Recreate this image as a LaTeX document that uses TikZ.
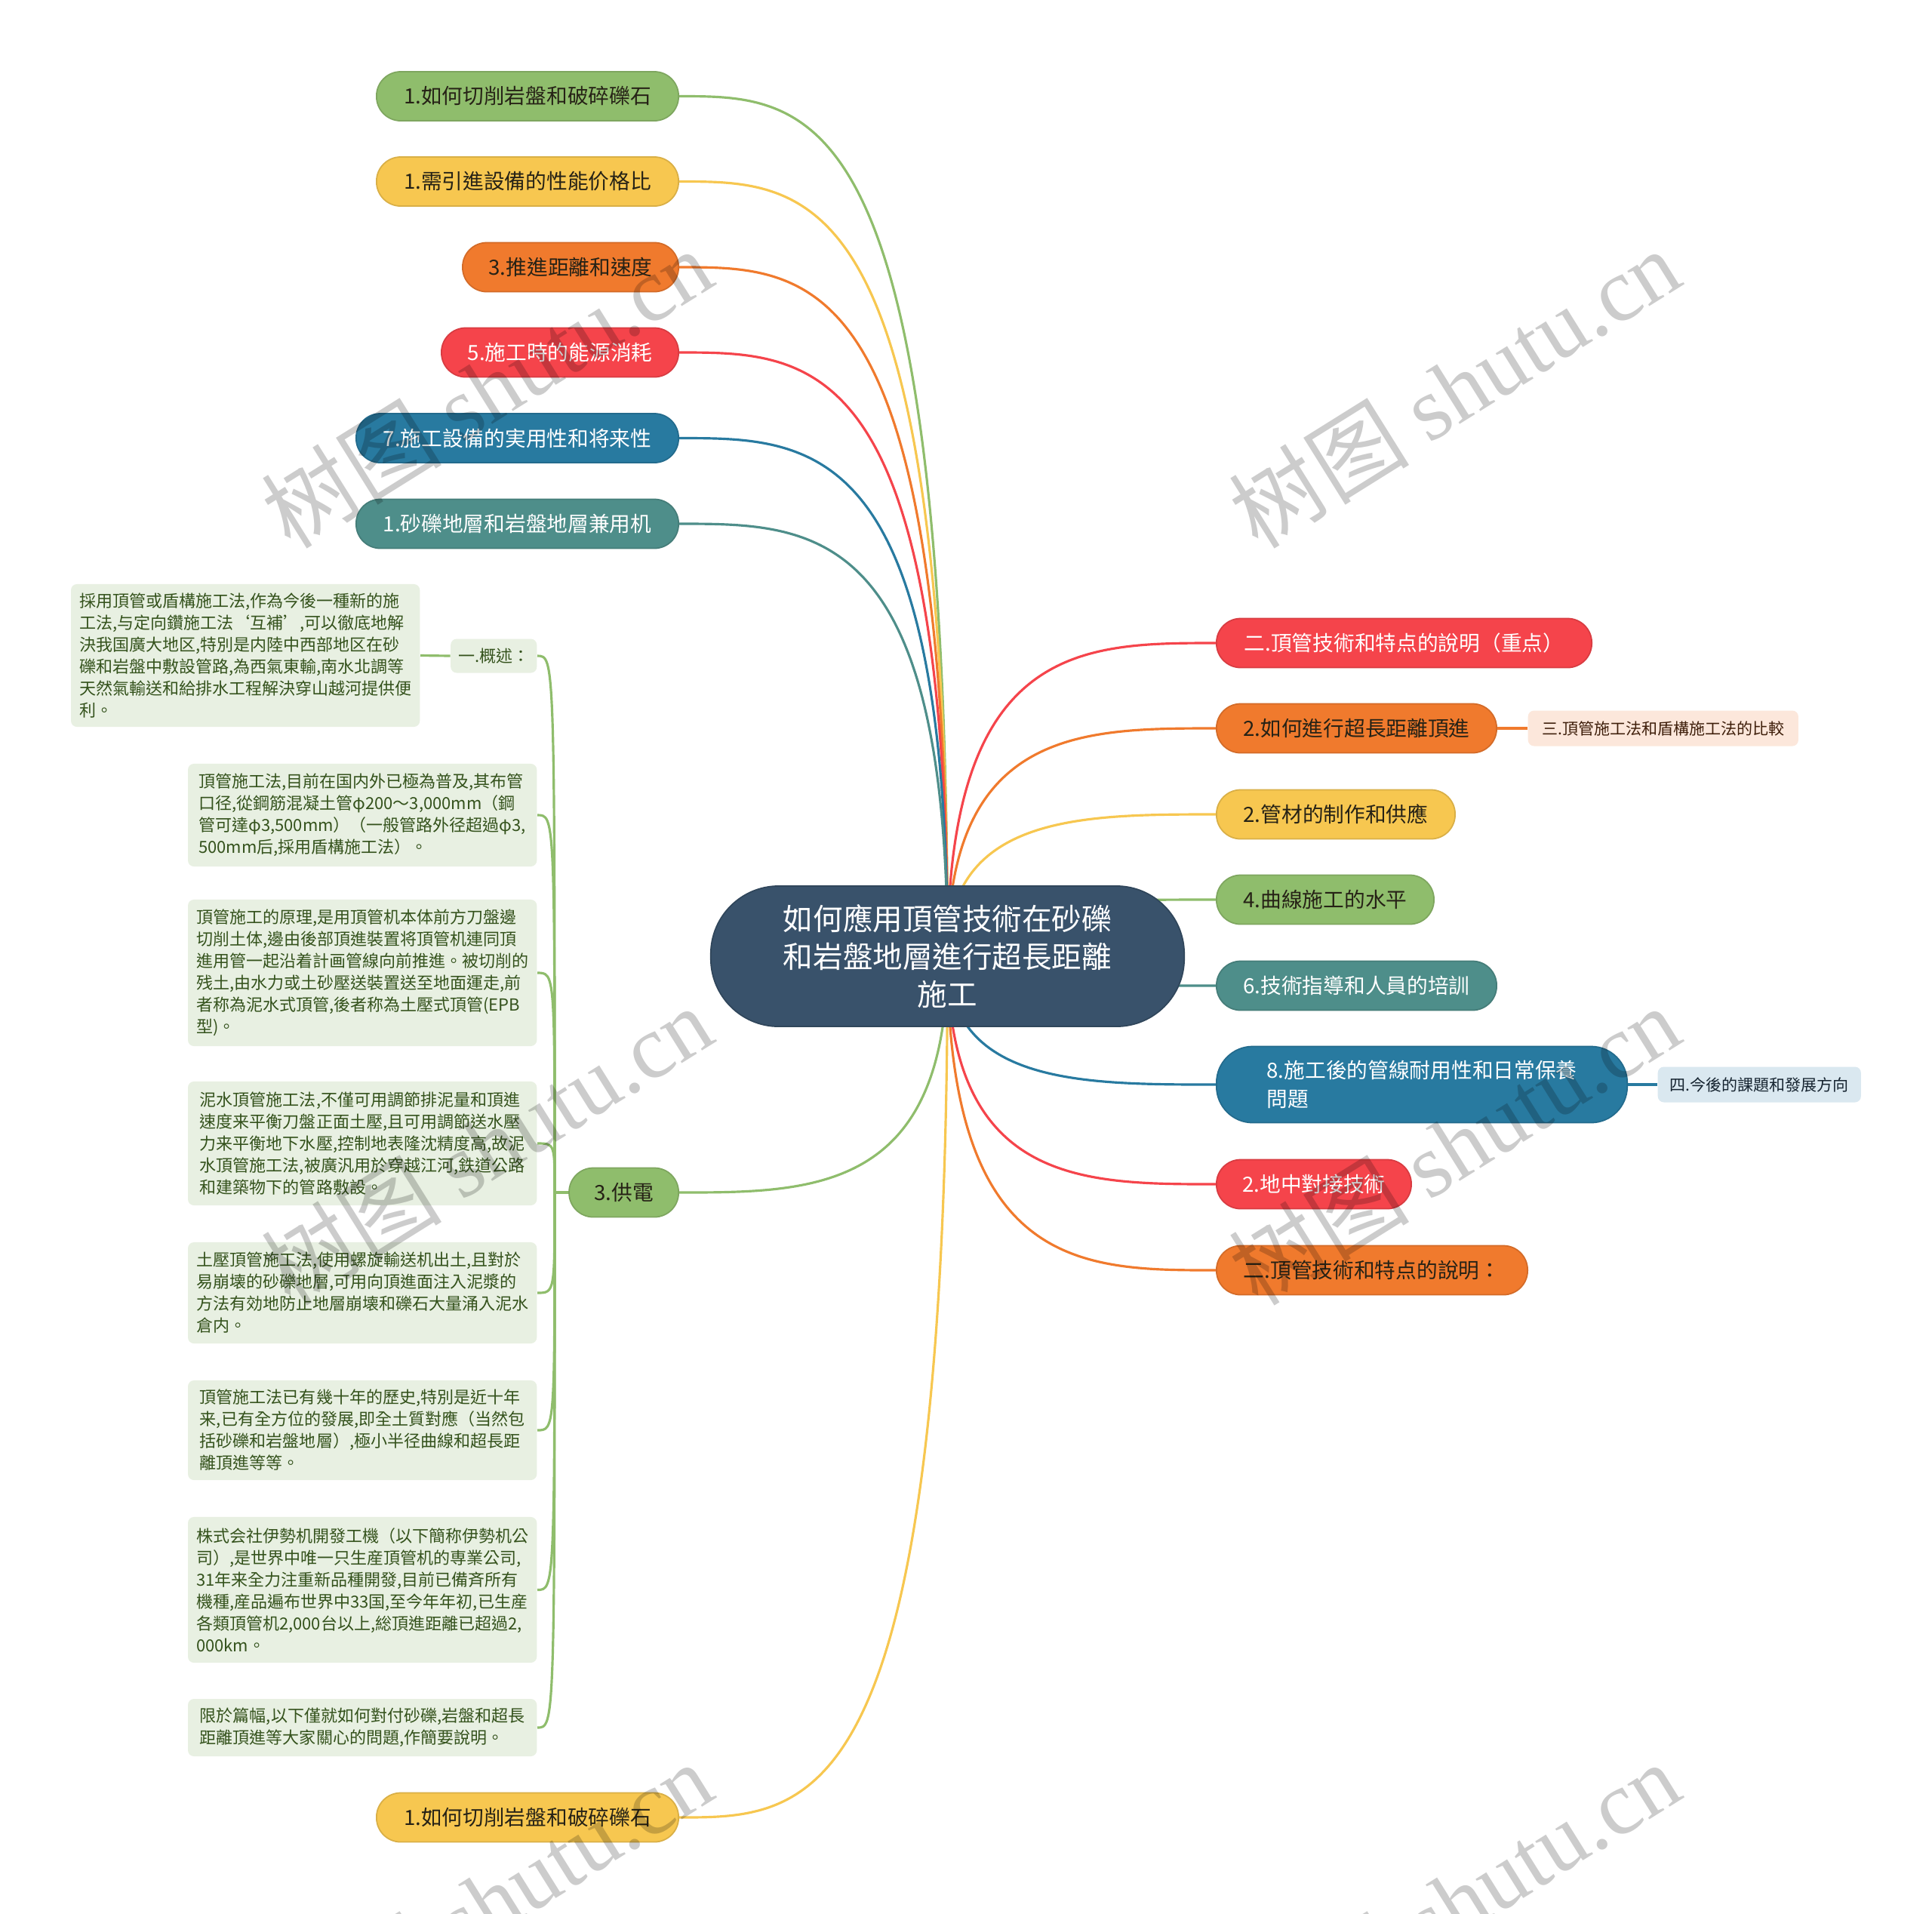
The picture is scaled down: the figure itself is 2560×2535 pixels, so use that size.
\documentclass[tikz,border=0pt]{standalone}
\usepackage{fontspec}
\setmainfont{Noto Sans CJK TC}
\newfontfamily\wmcjk{Noto Sans CJK SC}
\newfontfamily\wmlat{Liberation Serif}
\usetikzlibrary{calc,backgrounds}
\definecolor{cgreen}{RGB}{143,189,108}
\definecolor{cyellow}{RGB}{247,199,80}
\definecolor{corange}{RGB}{240,122,45}
\definecolor{cred}{RGB}{245,68,75}
\definecolor{cblue}{RGB}{40,122,160}
\definecolor{cteal}{RGB}{78,142,138}
\definecolor{croot}{RGB}{57,82,107}
\definecolor{boxgreen}{RGB}{232,240,226}
\definecolor{txtgreen}{RGB}{52,82,28}
\definecolor{boxpeach}{RGB}{252,231,219}
\definecolor{boxblue}{RGB}{218,232,240}
\definecolor{darktxt}{RGB}{38,34,22}
\definecolor{browntxt}{RGB}{62,30,10}
\definecolor{bluetxt}{RGB}{22,36,48}
\newcommand\fpx[2]{\fontsize{#1}{#2}\selectfont}
\begin{document}
\begin{tikzpicture}[x=0.01cm,y=-0.01cm,
  branch/.style={rectangle, rounded corners=0.32cm, minimum height=0.65cm, inner sep=0pt,
     font=\fpx{7.88pt}{9.4pt}, fill=#1, draw=#1!88!black, line width=0.5pt},
  dk/.style={text=darktxt},
  wt/.style={text=white},
  conn/.style={draw=#1, line width=0.9pt},
  tbox/.style={rectangle, rounded corners=0.08cm, fill=boxgreen, text=txtgreen,
     font=\fpx{6.26pt}{8.25pt}, align=left, inner sep=0pt, minimum width=4.62cm, anchor=east},
  cbox/.style={rectangle, rounded corners=0.08cm, inner sep=0pt, minimum height=0.47cm,
     font=\fpx{5.98pt}{7pt}, anchor=west},
  wm/.style={rotate=32, text=black, text opacity=0.2, inner sep=0pt}
]
\useasboundingbox (0,0) rectangle (2560,2535);
\clip (0,0) rectangle (2560,2535);

% root
\node[rectangle, rounded corners=0.9cm, fill=croot, draw=croot!85!black, line width=0.5pt,
      text=white, minimum width=6.27cm, minimum height=1.86cm, align=center, inner sep=0pt,
      font=\fpx{11.25pt}{14.2pt}] (root) at (1255.5,1267)
      {如何應用頂管技術在砂礫\\和岩盤地層進行超長距離\\施工};

% left branches
\node[branch=cgreen, dk, minimum width=4cm, anchor=east] (L1) at (900,127.5) {1.如何切削岩盤和破碎礫石};
\node[branch=cyellow, dk, minimum width=4cm, anchor=east] (L2) at (900,240.5) {1.需引進設備的性能价格比};
\node[branch=corange, dk, minimum width=2.86cm, anchor=east] (L3) at (900,354) {3.推進距離和速度};
\node[branch=cred, wt, minimum width=3.14cm, anchor=east] (L4) at (900,467) {5.施工時的能源消耗};
\node[branch=cblue, wt, minimum width=4.27cm, anchor=east] (L5) at (900,580.5) {7.施工設備的実用性和将来性};
\node[branch=cteal, wt, minimum width=4.27cm, anchor=east] (L6) at (900,694) {1.砂礫地層和岩盤地層兼用机};
\node[branch=cgreen, dk, minimum width=1.45cm, anchor=east] (GD) at (900,1580) {3.供電};
\node[branch=cyellow, dk, minimum width=4cm, anchor=east] (LB) at (900,2408) {1.如何切削岩盤和破碎礫石};

% right branches
\node[branch=cred, wt, minimum width=4.97cm, anchor=west] (R1) at (1611,852) {二.頂管技術和特点的說明（重点）};
\node[branch=corange, dk, minimum width=3.71cm, anchor=west] (R2) at (1611,965) {2.如何進行超長距離頂進};
\node[branch=cyellow, dk, minimum width=3.16cm, anchor=west] (R3) at (1611,1079) {2.管材的制作和供應};
\node[branch=cgreen, dk, minimum width=2.88cm, anchor=west] (R4) at (1611,1192) {4.曲線施工的水平};
\node[branch=cteal, wt, minimum width=3.71cm, anchor=west] (R5) at (1611,1306) {6.技術指導和人員的培訓};
\node[branch=cblue, wt, minimum width=5.44cm, minimum height=1.01cm, rounded corners=0.48cm,
      align=left, font=\fpx{7.88pt}{10.67pt}, anchor=west] (R6) at (1611,1437)
      {8.施工後的管線耐用性和日常保養\\問題};
\node[branch=cred, wt, minimum width=2.58cm, anchor=west] (R7) at (1611,1569) {2.地中對接技術};
\node[branch=corange, dk, minimum width=4.12cm, anchor=west] (R8) at (1611,1683) {二.頂管技術和特点的說明：};

% right children
\node[cbox, fill=boxpeach, text=browntxt, minimum width=3.58cm] (C2) at (2024,965) {三.頂管施工法和盾構施工法的比較};
\node[cbox, fill=boxblue, text=bluetxt, minimum width=2.69cm] (C6) at (2196,1437) {四.今後的課題和發展方向};

% left detail boxes
\node[tbox, minimum width=1.14cm, minimum height=0.45cm] (GS) at (712,869) {一.概述：};
\node[tbox, minimum height=1.89cm] (T0) at (557,868.5)
 {採用頂管或盾構施工法,作為今後一種新的施\\工法,与定向鑽施工法‘互補’,可以徹底地解\\決我国廣大地区,特別是内陸中西部地区在砂\\礫和岩盤中敷設管路,為西氣東輸,南水北調等\\天然氣輸送和給排水工程解決穿山越河提供便\\利。};
\node[tbox, minimum height=1.36cm] (T1) at (712,1080)
 {頂管施工法,目前在国内外已極為普及,其布管\\口径,從鋼筋混凝土管φ200～3,000mm（鋼\\管可達φ3,500mm）（一般管路外径超過φ3,\\500mm后,採用盾構施工法）。};
\node[tbox, minimum height=1.94cm] (T2) at (712,1289)
 {頂管施工的原理,是用頂管机本体前方刀盤邊\\切削土体,邊由後部頂進裝置将頂管机連同頂\\進用管一起沿着計画管線向前推進。被切削的\\残土,由水力或土砂壓送裝置送至地面運走,前\\者称為泥水式頂管,後者称為土壓式頂管(EPB\\型)。};
\node[tbox, minimum height=1.64cm] (T3) at (712,1515)
 {泥水頂管施工法,不僅可用調節排泥量和頂進\\速度来平衡刀盤正面土壓,且可用調節送水壓\\力来平衡地下水壓,控制地表隆沈精度高,故泥\\水頂管施工法,被廣汎用於穿越江河,鉄道公路\\和建築物下的管路敷設。};
\node[tbox, minimum height=1.34cm] (T4) at (712,1713)
 {土壓頂管施工法,使用螺旋輸送机出土,且對於\\易崩壊的砂礫地層,可用向頂進面注入泥漿的\\方法有効地防止地層崩壊和礫石大量涌入泥水\\倉内。};
\node[tbox, minimum height=1.32cm] (T5) at (712,1895)
 {頂管施工法已有幾十年的歷史,特別是近十年\\来,已有全方位的發展,即全土質對應（当然包\\括砂礫和岩盤地層）,極小半径曲線和超長距\\離頂進等等。};
\node[tbox, minimum height=1.93cm] (T6) at (712,2106.5)
 {株式会社伊勢机開發工機（以下簡称伊勢机公\\司）,是世界中唯一只生産頂管机的専業公司,\\31年来全力注重新品種開發,目前已備斉所有\\機種,産品遍布世界中33国,至今年年初,已生産\\各類頂管机2,000台以上,総頂進距離已超過2,\\000km。};
\node[tbox, minimum height=0.76cm] (T7) at (712,2289)
 {限於篇幅,以下僅就如何對付砂礫,岩盤和超長\\距離頂進等大家關心的問題,作簡要說明。};

\coordinate (J) at (735,1580);

\begin{scope}[on background layer]
\fill[white] (0,0) rectangle (2560,2535);
% left connectors from root
\foreach \n/\c in {L1/cgreen,L2/cyellow,L3/corange,L4/cred,L5/cblue,L6/cteal,GD/cgreen,LB/cyellow}{
  \draw[conn=\c] (root.center) .. controls (root.center |- \n.east) and ($(root.center |- \n.east)!0.5!(\n.east)$) .. (\n.east);
}
% right connectors from root
\foreach \n/\c in {R1/cred,R2/corange,R3/cyellow,R4/cgreen,R5/cteal,R6/cblue,R7/cred,R8/corange}{
  \draw[conn=\c] (root.center) .. controls (root.center |- \n.west) and ($(root.center |- \n.west)!0.5!(\n.west)$) .. (\n.west);
}
\draw[conn=corange] (R2.east) -- (C2.west);
\draw[conn=cblue] (R6.east) -- (C6.west);
% 3.供電 children
\draw[conn=cgreen] (GD.west) -- (J);
\foreach \n in {GS,T1,T2,T3,T4,T5,T6,T7}{
  \draw[conn=cgreen] (J) .. controls (J |- \n.east) and (J |- \n.east) .. (\n.east);
}
\draw[conn=cgreen] (GS.west) -- (T0.east);
\end{scope}

% watermarks
\foreach \p in {(645,514),(1927,514),(645,1517),(1927,1517),(645,2519),(1927,2519)}{
  \node[wm] at \p {\fontsize{34pt}{40pt}\selectfont\wmcjk 树图 \wmlat shutu.cn};
}
\end{tikzpicture}
\end{document}
